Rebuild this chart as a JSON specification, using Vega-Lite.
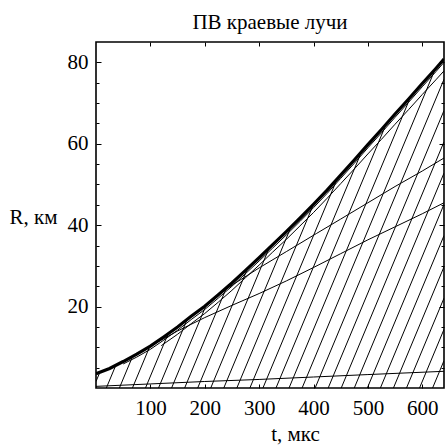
{
  "$schema": "https://vega.github.io/schema/vega-lite/v6.json",
  "width": 348,
  "height": 346,
  "autosize": {"type": "none"},
  "padding": {"left": 96, "top": 42, "right": 1, "bottom": 57},
  "background": "white",
  "title": {
    "text": "ПВ краевые лучи",
    "font": "Liberation Serif",
    "fontSize": 21,
    "fontWeight": "normal",
    "color": "black",
    "anchor": "middle",
    "baseline": "alphabetic",
    "offset": 13,
    "dy": 21
  },
  "config": {
    "view": {"stroke": "black", "strokeWidth": 1.6},
    "axis": {
      "domain": false,
      "grid": false,
      "labelFont": "Liberation Serif",
      "labelFontSize": 21,
      "labelColor": "black",
      "titleFont": "Liberation Serif",
      "titleFontSize": 21,
      "titleFontWeight": "normal",
      "titleColor": "black",
      "tickColor": "black",
      "tickWidth": 1
    }
  },
  "datasets": {
    "lines": [
      {"line": "front", "kind": "front", "t": 0, "R": 3.5},
      {"line": "front", "kind": "front", "t": 25, "R": 4.8},
      {"line": "front", "kind": "front", "t": 50, "R": 6.5},
      {"line": "front", "kind": "front", "t": 75, "R": 8.3},
      {"line": "front", "kind": "front", "t": 100, "R": 10.3},
      {"line": "front", "kind": "front", "t": 125, "R": 12.6},
      {"line": "front", "kind": "front", "t": 150, "R": 15.0},
      {"line": "front", "kind": "front", "t": 175, "R": 17.6},
      {"line": "front", "kind": "front", "t": 200, "R": 20.1},
      {"line": "front", "kind": "front", "t": 225, "R": 22.9},
      {"line": "front", "kind": "front", "t": 250, "R": 25.8},
      {"line": "front", "kind": "front", "t": 275, "R": 28.9},
      {"line": "front", "kind": "front", "t": 300, "R": 32.0},
      {"line": "front", "kind": "front", "t": 325, "R": 35.2},
      {"line": "front", "kind": "front", "t": 350, "R": 38.4},
      {"line": "front", "kind": "front", "t": 375, "R": 41.7},
      {"line": "front", "kind": "front", "t": 400, "R": 45.1},
      {"line": "front", "kind": "front", "t": 425, "R": 48.6},
      {"line": "front", "kind": "front", "t": 450, "R": 52.3},
      {"line": "front", "kind": "front", "t": 475, "R": 56.0},
      {"line": "front", "kind": "front", "t": 500, "R": 59.8},
      {"line": "front", "kind": "front", "t": 525, "R": 63.5},
      {"line": "front", "kind": "front", "t": 550, "R": 67.3},
      {"line": "front", "kind": "front", "t": 575, "R": 71.0},
      {"line": "front", "kind": "front", "t": 600, "R": 74.8},
      {"line": "front", "kind": "front", "t": 625, "R": 78.5},
      {"line": "front", "kind": "front", "t": 640, "R": 80.8},

      {"line": "rope1", "kind": "rope", "t": 50, "R": 5.9},
      {"line": "rope1", "kind": "rope", "t": 75, "R": 7.6},
      {"line": "rope1", "kind": "rope", "t": 100, "R": 9.5},
      {"line": "rope1", "kind": "rope", "t": 125, "R": 11.8},
      {"line": "rope1", "kind": "rope", "t": 150, "R": 14.2},
      {"line": "rope1", "kind": "rope", "t": 175, "R": 16.8},
      {"line": "rope1", "kind": "rope", "t": 200, "R": 19.3},
      {"line": "rope1", "kind": "rope", "t": 225, "R": 22.1},
      {"line": "rope1", "kind": "rope", "t": 250, "R": 25.0},
      {"line": "rope1", "kind": "rope", "t": 275, "R": 28.1},
      {"line": "rope1", "kind": "rope", "t": 300, "R": 31.2},
      {"line": "rope1", "kind": "rope", "t": 325, "R": 34.4},
      {"line": "rope1", "kind": "rope", "t": 350, "R": 37.6},
      {"line": "rope1", "kind": "rope", "t": 375, "R": 40.9},
      {"line": "rope1", "kind": "rope", "t": 400, "R": 44.3},
      {"line": "rope1", "kind": "rope", "t": 425, "R": 47.8},
      {"line": "rope1", "kind": "rope", "t": 450, "R": 51.5},
      {"line": "rope1", "kind": "rope", "t": 475, "R": 55.2},
      {"line": "rope1", "kind": "rope", "t": 500, "R": 59.0},
      {"line": "rope1", "kind": "rope", "t": 525, "R": 62.7},
      {"line": "rope1", "kind": "rope", "t": 550, "R": 66.5},
      {"line": "rope1", "kind": "rope", "t": 575, "R": 70.2},
      {"line": "rope1", "kind": "rope", "t": 600, "R": 74.0},
      {"line": "rope1", "kind": "rope", "t": 625, "R": 77.7},
      {"line": "rope1", "kind": "rope", "t": 640, "R": 80.0},

      {"line": "rope2", "kind": "rope", "t": 120, "R": 10.4},
      {"line": "rope2", "kind": "rope", "t": 150, "R": 13.2},
      {"line": "rope2", "kind": "rope", "t": 175, "R": 15.8},
      {"line": "rope2", "kind": "rope", "t": 200, "R": 18.3},
      {"line": "rope2", "kind": "rope", "t": 225, "R": 21.1},
      {"line": "rope2", "kind": "rope", "t": 250, "R": 24.0},
      {"line": "rope2", "kind": "rope", "t": 275, "R": 27.1},
      {"line": "rope2", "kind": "rope", "t": 300, "R": 30.2},
      {"line": "rope2", "kind": "rope", "t": 325, "R": 33.4},
      {"line": "rope2", "kind": "rope", "t": 350, "R": 36.5},
      {"line": "rope2", "kind": "rope", "t": 375, "R": 39.8},
      {"line": "rope2", "kind": "rope", "t": 400, "R": 43.1},
      {"line": "rope2", "kind": "rope", "t": 425, "R": 46.6},
      {"line": "rope2", "kind": "rope", "t": 450, "R": 50.2},
      {"line": "rope2", "kind": "rope", "t": 475, "R": 53.8},
      {"line": "rope2", "kind": "rope", "t": 500, "R": 57.5},
      {"line": "rope2", "kind": "rope", "t": 525, "R": 61.1},
      {"line": "rope2", "kind": "rope", "t": 550, "R": 64.8},
      {"line": "rope2", "kind": "rope", "t": 575, "R": 68.4},
      {"line": "rope2", "kind": "rope", "t": 600, "R": 72.1},
      {"line": "rope2", "kind": "rope", "t": 625, "R": 75.7},
      {"line": "rope2", "kind": "rope", "t": 640, "R": 77.9},

      {"line": "branchA", "kind": "curve", "t": 230, "R": 23.4},
      {"line": "branchA", "kind": "curve", "t": 253, "R": 25.5},
      {"line": "branchA", "kind": "curve", "t": 300, "R": 29.5},
      {"line": "branchA", "kind": "curve", "t": 350, "R": 33.5},
      {"line": "branchA", "kind": "curve", "t": 406, "R": 38.0},
      {"line": "branchA", "kind": "curve", "t": 450, "R": 41.5},
      {"line": "branchA", "kind": "curve", "t": 500, "R": 45.5},
      {"line": "branchA", "kind": "curve", "t": 550, "R": 49.5},
      {"line": "branchA", "kind": "curve", "t": 600, "R": 53.3},
      {"line": "branchA", "kind": "curve", "t": 640, "R": 56.5},

      {"line": "branchB", "kind": "curve", "t": 85, "R": 9.2},
      {"line": "branchB", "kind": "curve", "t": 150, "R": 14.0},
      {"line": "branchB", "kind": "curve", "t": 200, "R": 17.3},
      {"line": "branchB", "kind": "curve", "t": 250, "R": 20.3},
      {"line": "branchB", "kind": "curve", "t": 300, "R": 23.2},
      {"line": "branchB", "kind": "curve", "t": 350, "R": 26.3},
      {"line": "branchB", "kind": "curve", "t": 400, "R": 29.6},
      {"line": "branchB", "kind": "curve", "t": 450, "R": 33.0},
      {"line": "branchB", "kind": "curve", "t": 500, "R": 36.4},
      {"line": "branchB", "kind": "curve", "t": 550, "R": 39.6},
      {"line": "branchB", "kind": "curve", "t": 600, "R": 42.8},
      {"line": "branchB", "kind": "curve", "t": 640, "R": 45.5},

      {"line": "ground", "kind": "ground", "t": 0, "R": 0.4},
      {"line": "ground", "kind": "ground", "t": 100, "R": 1.0},
      {"line": "ground", "kind": "ground", "t": 200, "R": 1.6},
      {"line": "ground", "kind": "ground", "t": 300, "R": 2.1},
      {"line": "ground", "kind": "ground", "t": 400, "R": 2.7},
      {"line": "ground", "kind": "ground", "t": 500, "R": 3.3},
      {"line": "ground", "kind": "ground", "t": 640, "R": 4.1},

      {"line": "ray00", "kind": "ray", "t": 0, "R": 1.6},
      {"line": "ray00", "kind": "ray", "t": 7.1, "R": 3.87},
      {"line": "ray01", "kind": "ray", "t": 19, "R": 0},
      {"line": "ray01", "kind": "ray", "t": 36.4, "R": 5.57},
      {"line": "ray02", "kind": "ray", "t": 43, "R": 0},
      {"line": "ray02", "kind": "ray", "t": 67.1, "R": 7.71},
      {"line": "ray03", "kind": "ray", "t": 67, "R": 0},
      {"line": "ray03", "kind": "ray", "t": 98.9, "R": 10.21},
      {"line": "ray04", "kind": "ray", "t": 91, "R": 0},
      {"line": "ray04", "kind": "ray", "t": 132.7, "R": 13.34},
      {"line": "ray05", "kind": "ray", "t": 115, "R": 0},
      {"line": "ray05", "kind": "ray", "t": 167.6, "R": 16.83},
      {"line": "ray06", "kind": "ray", "t": 139, "R": 0},
      {"line": "ray06", "kind": "ray", "t": 202.8, "R": 20.42},
      {"line": "ray07", "kind": "ray", "t": 163, "R": 0},
      {"line": "ray07", "kind": "ray", "t": 240, "R": 24.64},
      {"line": "ray08", "kind": "ray", "t": 187, "R": 0},
      {"line": "ray08", "kind": "ray", "t": 278.8, "R": 29.38},
      {"line": "ray09", "kind": "ray", "t": 211, "R": 0},
      {"line": "ray09", "kind": "ray", "t": 318.3, "R": 34.34},
      {"line": "ray10", "kind": "ray", "t": 235, "R": 0},
      {"line": "ray10", "kind": "ray", "t": 358.5, "R": 39.52},
      {"line": "ray11", "kind": "ray", "t": 259, "R": 0},
      {"line": "ray11", "kind": "ray", "t": 399.8, "R": 45.06},
      {"line": "ray12", "kind": "ray", "t": 283, "R": 0},
      {"line": "ray12", "kind": "ray", "t": 443.3, "R": 51.3},
      {"line": "ray13", "kind": "ray", "t": 307, "R": 0},
      {"line": "ray13", "kind": "ray", "t": 488.4, "R": 58.05},
      {"line": "ray14", "kind": "ray", "t": 331, "R": 0},
      {"line": "ray14", "kind": "ray", "t": 533.4, "R": 64.77},
      {"line": "ray15", "kind": "ray", "t": 355, "R": 0},
      {"line": "ray15", "kind": "ray", "t": 578.6, "R": 71.55},
      {"line": "ray16", "kind": "ray", "t": 379, "R": 0},
      {"line": "ray16", "kind": "ray", "t": 623.7, "R": 78.3},
      {"line": "ray17", "kind": "ray", "t": 403, "R": 0},
      {"line": "ray17", "kind": "ray", "t": 640, "R": 75.84},
      {"line": "ray18", "kind": "ray", "t": 427, "R": 0},
      {"line": "ray18", "kind": "ray", "t": 640, "R": 68.16},
      {"line": "ray19", "kind": "ray", "t": 451, "R": 0},
      {"line": "ray19", "kind": "ray", "t": 640, "R": 60.48},
      {"line": "ray20", "kind": "ray", "t": 475, "R": 0},
      {"line": "ray20", "kind": "ray", "t": 640, "R": 52.8},
      {"line": "ray21", "kind": "ray", "t": 499, "R": 0},
      {"line": "ray21", "kind": "ray", "t": 640, "R": 45.12},
      {"line": "ray22", "kind": "ray", "t": 523, "R": 0},
      {"line": "ray22", "kind": "ray", "t": 640, "R": 37.44},
      {"line": "ray23", "kind": "ray", "t": 547, "R": 0},
      {"line": "ray23", "kind": "ray", "t": 640, "R": 29.76},
      {"line": "ray24", "kind": "ray", "t": 571, "R": 0},
      {"line": "ray24", "kind": "ray", "t": 640, "R": 22.08},
      {"line": "ray25", "kind": "ray", "t": 595, "R": 0},
      {"line": "ray25", "kind": "ray", "t": 640, "R": 14.4},
      {"line": "ray26", "kind": "ray", "t": 619, "R": 0},
      {"line": "ray26", "kind": "ray", "t": 640, "R": 6.72}
    ]
  },
  "data": {"name": "lines"},
  "layer": [
    {
      "transform": [{"filter": "datum.kind !== 'front'"}],
      "mark": {"type": "line", "color": "black", "clip": true, "strokeJoin": "round"},
      "encoding": {
        "x": {
          "field": "t",
          "type": "quantitative",
          "scale": {"domain": [0, 640], "nice": false, "zero": false},
          "axis": {
            "orient": "bottom",
            "values": [100, 200, 300, 400, 500, 600],
            "tickSize": -4,
            "labelPadding": 13,
            "title": "t, мкс",
            "titleAlign": "center",
            "titleBaseline": "alphabetic",
            "titleX": 199,
            "titleY": 52
          }
        },
        "y": {
          "field": "R",
          "type": "quantitative",
          "scale": {"domain": [0, 85], "nice": false, "zero": false},
          "axis": {
            "orient": "left",
            "values": [5, 10, 15, 20, 25, 30, 35, 40, 45, 50, 55, 60, 65, 70, 75, 80],
            "labelExpr": "datum.value % 20 === 0 ? datum.label : ''",
            "tickSize": {"condition": {"test": "datum.value % 20 === 0", "value": -5}, "value": -3},
            "labelPadding": 13,
            "labelBaseline": "middle",
            "title": "R, км",
            "titleAngle": 0,
            "titleAlign": "right",
            "titleBaseline": "alphabetic",
            "titleX": -39,
            "titleY": 181
          }
        },
        "detail": {"field": "line"},
        "strokeWidth": {
          "field": "kind",
          "type": "nominal",
          "scale": {"domain": ["ray", "rope", "curve", "ground"], "range": [1, 1, 1, 1.4]},
          "legend": null
        }
      }
    },
    {
      "transform": [{"filter": "datum.kind === 'front'"}],
      "mark": {"type": "line", "color": "black", "strokeWidth": 3.2, "clip": true},
      "encoding": {
        "x": {
          "field": "t",
          "type": "quantitative",
          "axis": {
            "orient": "top",
            "values": [100, 200, 300, 400, 500, 600],
            "tickSize": -4,
            "labels": false,
            "title": null
          }
        },
        "y": {
          "field": "R",
          "type": "quantitative",
          "axis": {
            "orient": "right",
            "values": [5, 10, 15, 20, 25, 30, 35, 40, 45, 50, 55, 60, 65, 70, 75, 80],
            "tickSize": {"condition": {"test": "datum.value % 20 === 0", "value": -5}, "value": -3},
            "labels": false,
            "title": null
          }
        }
      }
    }
  ],
  "resolve": {"axis": {"x": "independent", "y": "independent"}}
}
